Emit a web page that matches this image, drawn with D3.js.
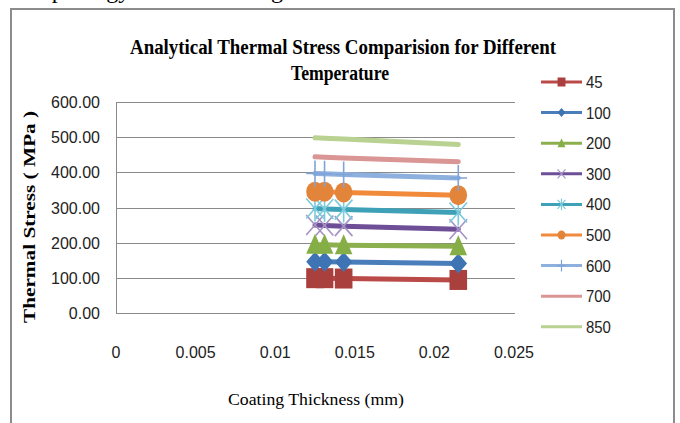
<!DOCTYPE html>
<html lang="en">
<head>
	<meta charset="utf-8">
	<title>Analytical Thermal Stress Comparision</title>
	<script src="https://cdn.jsdelivr.net/npm/d3@7"></script>
	<style>
		body { margin: 0; background: #fff; }
	</style>
</head>
<body>
	<script>
		// coating thickness (mm), same for every series
		const thickness = [0.0125, 0.0131, 0.0143, 0.0215];

		const temps = ["45", "100", "200", "300", "400", "500", "600", "700", "850"];

		// thermal stress (MPa) per temperature
		const s45 = [99, 99, 98, 94];
		const s100 = [146, 146, 145, 141];
		const s200 = [194, 194, 193, 190];
		const s300 = [250, 249, 247, 238];
		const s400 = [297, 296, 294, 286];
		const s500 = [345, 345, 343, 335];
		const s600 = [397, 396, 394, 384];
		const s700 = [444, 443, 441, 430];
		const s850 = [498, 497, 495, 479];

		const yTicks = [0, 100, 200, 300, 400, 500, 600];
		const xTicks = [0, 0.005, 0.01, 0.015, 0.02, 0.025];

		const series = [s45, s100, s200, s300, s400, s500, s600, s700, s850];
		const lineColors = ["#B94A47", "#4A7EBB", "#8DB04E", "#6E4E97", "#3FA1B8", "#F28A3C", "#8EB0DE", "#D99694", "#B9D291"];
		const markColors = ["#A9403D", "#3F74B4", "#86AE47", "#A592C6", "#7CCBDD", "#E2843A", "#7FA4D8", null, null];
		const shapes = ["square", "diamond", "triangle", "x", "star", "circle", "plus", null, null];

		const W = 680, H = 423;
		const svg = d3.select("body").append("svg")
			.attr("width", W)
			.attr("height", H);

		// cropped text of the page above the figure
		svg.append("text")
			.attr("x", 13).attr("y", -2)
			.attr("font-family", "Liberation Serif, serif")
			.attr("font-size", 24)
			.attr("fill", "#000")
			.text("morphology and the coating");

		// frame
		svg.append("rect")
			.attr("x", 11).attr("y", 9)
			.attr("width", 663).attr("height", 430)
			.attr("fill", "none")
			.attr("stroke", "#8c8c8c")
			.attr("stroke-width", 2);

		const x = d3.scaleLinear().domain([0, 0.025]).range([116, 514]);
		const y = d3.scaleLinear().domain([0, 600]).range([313, 102]);

		// gridlines
		svg.append("g").selectAll("line")
			.data(yTicks)
			.enter()
			.append("line")
			.attr("x1", 116).attr("x2", 515)
			.attr("y1", d => Math.round(y(d)) + 0.5)
			.attr("y2", d => Math.round(y(d)) + 0.5)
			.attr("stroke", "#8a8a8a")
			.attr("stroke-width", 1);

		svg.append("line")
			.attr("x1", 116.5).attr("x2", 116.5)
			.attr("y1", y(600)).attr("y2", y(0) + 1)
			.attr("stroke", "#8a8a8a");

		// y tick labels
		svg.append("g").selectAll("text")
			.data(yTicks)
			.enter()
			.append("text")
			.attr("x", 100)
			.attr("y", d => y(d) + 6)
			.attr("text-anchor", "end")
			.attr("font-family", "Liberation Sans, Arial, sans-serif")
			.attr("font-size", 16)
			.attr("fill", "#222")
			.text(d => d.toFixed(2));

		// x tick labels
		svg.append("g").selectAll("text")
			.data(xTicks)
			.enter()
			.append("text")
			.attr("x", d => x(d))
			.attr("y", 358)
			.attr("text-anchor", "middle")
			.attr("font-family", "Liberation Sans, Arial, sans-serif")
			.attr("font-size", 16)
			.attr("fill", "#222")
			.text(d => String(d));

		// titles
		svg.append("text")
			.attr("x", 343).attr("y", 54)
			.attr("text-anchor", "middle")
			.attr("font-family", "Liberation Serif, serif")
			.attr("font-weight", "bold")
			.attr("font-size", 20)
			.attr("textLength", 426)
			.attr("lengthAdjust", "spacingAndGlyphs")
			.text("Analytical Thermal Stress Comparision for Different");
		svg.append("text")
			.attr("x", 340).attr("y", 80)
			.attr("text-anchor", "middle")
			.attr("font-family", "Liberation Serif, serif")
			.attr("font-weight", "bold")
			.attr("font-size", 20)
			.attr("textLength", 98)
			.attr("lengthAdjust", "spacingAndGlyphs")
			.text("Temperature");

		svg.append("text")
			.attr("transform", "translate(35,217) rotate(-90)")
			.attr("text-anchor", "middle")
			.attr("font-family", "Liberation Serif, serif")
			.attr("font-weight", "bold")
			.attr("font-size", 17)
			.attr("textLength", 212)
			.attr("lengthAdjust", "spacingAndGlyphs")
			.text("Thermal Stress ( MPa )");

		svg.append("text")
			.attr("x", 316).attr("y", 405)
			.attr("text-anchor", "middle")
			.attr("font-family", "Liberation Serif, serif")
			.attr("font-size", 17)
			.attr("textLength", 176)
			.attr("lengthAdjust", "spacingAndGlyphs")
			.text("Coating Thickness (mm)");

		// marker drawing, r = half height
		function drawMarker(g, shape, cx, cy, r, color) {
			const w = r * 0.88;
			if (shape === "square") {
				g.append("rect").attr("x", cx - w).attr("y", cy - r)
					.attr("width", 2 * w).attr("height", 2 * r).attr("fill", color);
			} else if (shape === "diamond") {
				g.append("path")
					.attr("d", `M${cx},${cy - r}L${cx + w},${cy}L${cx},${cy + r}L${cx - w},${cy}Z`)
					.attr("fill", color);
			} else if (shape === "triangle") {
				g.append("path")
					.attr("d", `M${cx},${cy - r * 1.1}L${cx + w},${cy + r * 0.9}L${cx - w},${cy + r * 0.9}Z`)
					.attr("fill", color);
			} else if (shape === "circle") {
				g.append("ellipse").attr("cx", cx).attr("cy", cy)
					.attr("rx", w).attr("ry", r).attr("fill", color);
			} else if (shape === "x" || shape === "star" || shape === "plus") {
				let d = "";
				if (shape !== "plus") {
					d += `M${cx - w},${cy - r}L${cx + w},${cy + r}M${cx - w},${cy + r}L${cx + w},${cy - r}`;
				}
				if (shape !== "x") {
					d += `M${cx},${cy - r * 1.3}L${cx},${cy + r * 1.3}`;
				}
				if (shape === "plus") {
					d += `M${cx - w},${cy}L${cx + w},${cy}`;
				}
				g.append("path").attr("d", d)
					.attr("fill", "none").attr("stroke", color)
					.attr("stroke-width", r > 6 ? 1.6 : 1.2);
			}
		}

		const line = d3.line()
			.x((d, i) => x(thickness[i]))
			.y(d => y(d));

		series.forEach(function (vals, k) {
			const g = svg.append("g");
			g.append("path")
				.datum(vals)
				.attr("d", line)
				.attr("fill", "none")
				.attr("stroke", lineColors[k])
				.attr("stroke-width", 5)
				.attr("stroke-linecap", "round")
				.attr("stroke-linejoin", "round");
			if (shapes[k]) {
				vals.forEach(function (v, i) {
					drawMarker(g, shapes[k], x(thickness[i]), y(v), 10, markColors[k]);
				});
			}
		});

		// legend
		const legend = svg.append("g");
		temps.forEach(function (t, k) {
			const ly = 82 + k * 30.6;
			legend.append("line")
				.attr("x1", 541).attr("x2", 582)
				.attr("y1", ly).attr("y2", ly)
				.attr("stroke", lineColors[k])
				.attr("stroke-width", 3);
			if (shapes[k]) {
				drawMarker(legend, shapes[k], 561.5, ly, 4.5, markColors[k]);
			}
			legend.append("text")
				.attr("x", 586)
				.attr("y", ly + 6)
				.attr("font-family", "Liberation Sans, Arial, sans-serif")
				.attr("font-size", 16)
				.attr("fill", "#222")
				.attr("textLength", t.length * 8.3)
				.attr("lengthAdjust", "spacingAndGlyphs")
				.text(t);
		});
	</script>
</body>
</html>
